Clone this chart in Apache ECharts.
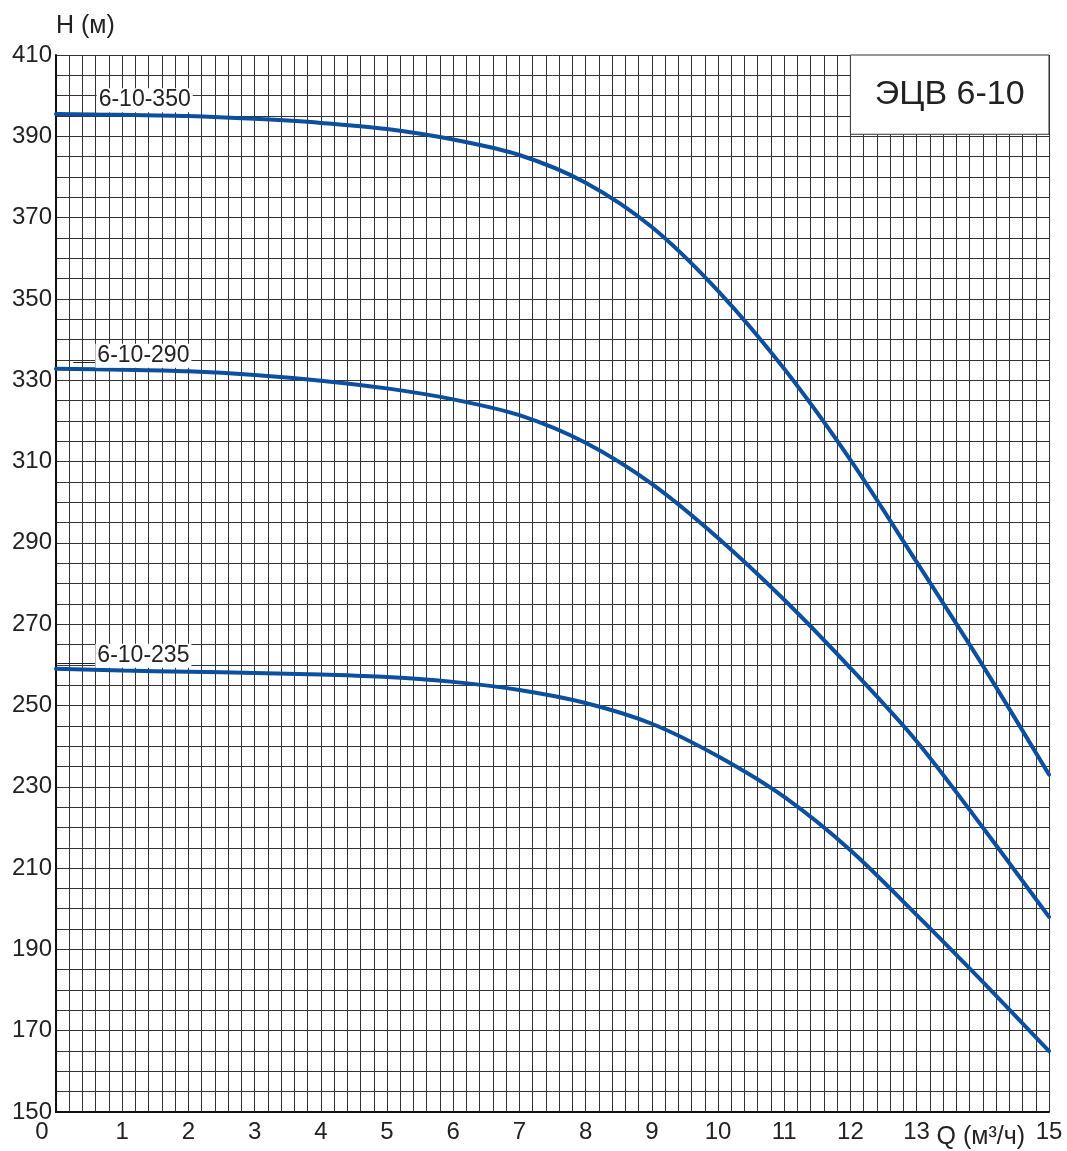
<!DOCTYPE html>
<html><head><meta charset="utf-8">
<script src="https://cdn.jsdelivr.net/npm/echarts@6/dist/echarts.min.js"></script>
<style>html,body{margin:0;padding:0;background:#fff}#c{width:1067px;height:1151px}</style>
</head><body><div id="c"></div>
<script>
// Flow Q (m3/h)
const flowQ = [0,1,2,3,4,5,6,7,8,9,10,11,12,13,14,15];
// Head H (m) for each pump curve
const head350 = [395.5,395.3,395.0,394.3,393.3,391.8,389.2,385.4,378.6,367.7,352.0,332.8,310.4,285.3,259.8,233.0];
const head290 = [332.8,332.6,332.2,331.3,329.9,328.0,325.3,321.4,314.6,304.5,291.2,276.0,259.2,241.2,220.0,198.0];
const head235 = [259.0,258.6,258.3,258.0,257.6,257.0,255.8,253.8,250.6,245.5,237.5,227.5,214.4,198.5,182.0,165.0];
const curveNames = ['6-10-350','6-10-290','6-10-235'];
const curveHeads = [head350, head290, head235];
// x tick labels that are printed (14 is left blank in the original)
const xTickText = {0:'0',1:'1',2:'2',3:'3',4:'4',5:'5',6:'6',7:'7',8:'8',9:'9',10:'10',11:'11',12:'12',13:'13',14:'',15:'15'};
// label anchor (Q, H) per curve
const labelAnchors = [[1.34,398.9],[1.32,336.0],[1.32,262.2]];
const leaderLines = [null, [[0.26,334.3],[0.6,334.3]], [[0.02,260.5],[0.6,260.5]]];
const modelTitle = 'ЭЦВ 6-10';
const titleBox = [[12,410],[15,390.5]];
const xName = 'Q (м³/ч)';
const yName = 'H (м)';
const xRange = [0,15], yRange = [150,410];

const FONT = 'Liberation Sans, Arial, sans-serif';
const TXT = '#222';
const LINE = '#0b4f9e';
const GRID = '#333';

const chart = echarts.init(document.getElementById('c'), null, {renderer:'canvas'});

const series = curveNames.map((name, i) => {
  const s = {
    name: name,
    type: 'line',
    smooth: 0.3,
    symbol: 'none',
    data: flowQ.map((q, k) => [q, curveHeads[i][k]]),
    lineStyle: {color: LINE, width: 4, cap: 'round'},
    z: 3,
    markPoint: {
      symbol: 'circle', symbolSize: 0, silent: true,
      data: [{coord: labelAnchors[i], value: name}],
      label: {
        show: true, position: 'inside', formatter: name,
        fontFamily: FONT, fontSize: 23, color: TXT,
        backgroundColor: '#fff', padding: [1, 2, 0, 2]
      }
    }
  };
  if (leaderLines[i]) {
    s.markLine = {
      silent: true, symbol: 'none', label: {show: false},
      lineStyle: {color: TXT, width: 1, type: 'solid'},
      data: [[{coord: leaderLines[i][0]}, {coord: leaderLines[i][1]}]]
    };
  }
  if (i === 0) {
    s.markArea = {
      silent: true,
      itemStyle: {color: '#fff', borderColor: GRID, borderWidth: 1},
      label: {show: true, position: 'inside', formatter: modelTitle,
        fontFamily: FONT, fontSize: 34, color: TXT},
      data: [[{coord: titleBox[0]}, {coord: titleBox[1]}]]
    };
  }
  return s;
});

chart.setOption({
  animation: false,
  backgroundColor: '#fff',
  grid: {left: 56, right: 18, top: 55, bottom: 39, containLabel: false, outerBoundsMode: 'none'},
  xAxis: {
    type: 'value', min: xRange[0], max: xRange[1], interval: 1,
    axisLine: {show: true, lineStyle: {color: '#111', width: 2}},
    axisTick: {show: false},
    minorTick: {show: false, splitNumber: 5},
    axisLabel: {
      fontFamily: FONT, fontSize: 24, color: TXT, margin: 8,
      formatter: v => v === 0 ? '{z|0}' : (xTickText[v] !== undefined ? xTickText[v] : String(v)),
      rich: {z: {fontFamily: FONT, fontSize: 24, color: TXT, padding: [0, 28, 0, 0]}}
    },
    splitLine: {show: true, lineStyle: {color: GRID, width: 1}},
    minorSplitLine: {show: true, lineStyle: {color: GRID, width: 1}}
  },
  yAxis: {
    type: 'value', min: yRange[0], max: yRange[1], interval: 20,
    name: yName, nameLocation: 'end', nameGap: 16,
    nameTextStyle: {fontFamily: FONT, fontSize: 25, color: TXT, align: 'left'},
    axisLine: {show: true, lineStyle: {color: '#111', width: 2}},
    axisTick: {show: false},
    minorTick: {show: false, splitNumber: 4},
    axisLabel: {fontFamily: FONT, fontSize: 24, color: TXT, margin: 4},
    splitLine: {show: true, lineStyle: {color: GRID, width: 1}},
    minorSplitLine: {show: true, lineStyle: {color: GRID, width: 1}}
  },
  series: series
});

// x-axis name placed between the "13" and "15" tick labels, below the axis
const p13 = chart.convertToPixel({gridIndex: 0}, [13, yRange[0]]);
chart.setOption({
  graphic: [{
    type: 'text', silent: true,
    x: p13[0] + 20, y: p13[1] + 25,
    style: {text: xName, fontFamily: FONT, fontSize: 25, fill: TXT,
      align: 'left', verticalAlign: 'middle'}
  }]
});
</script>
</body></html>
